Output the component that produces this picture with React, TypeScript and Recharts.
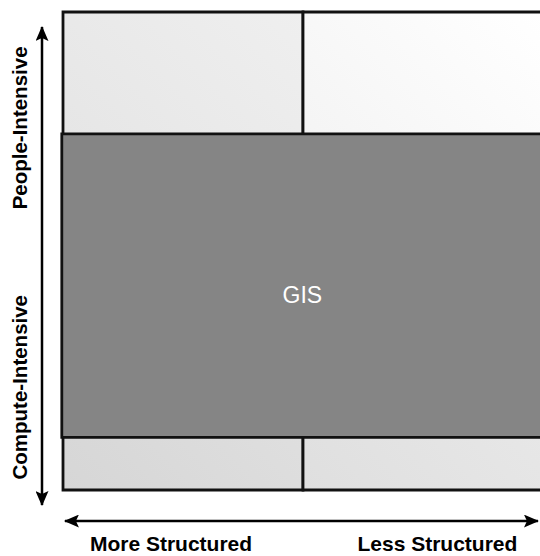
import { ComposedChart, XAxis, YAxis, ReferenceArea, ReferenceLine } from 'recharts';

// quadrant grid: columns along x, rows along y
const columnLabels = ['More Structured', 'Less Structured'];
const rowLabels = ['Compute-Intensive', 'People-Intensive'];
const columnLabelTicks = [0.45, 1.56];
const rowLabelTicks = [0.43, 1.515];

const quadrants = [
    { id: 'tl', x1: 0, x2: 1, y1: 1, y2: 2 },
    { id: 'tr', x1: 1, x2: 2, y1: 1, y2: 2 },
    { id: 'bl', x1: 0, x2: 1, y1: 0, y2: 1 },
    { id: 'br', x1: 1, x2: 2, y1: 0, y2: 1 },
];

const gisBand = { name: 'GIS', x1: -0.005, x2: 2, y1: 0.22, y2: 1.49 };

const cellGradients: Record<string, [string, string]> = {
    tl: ['#e3e3e3', '#efefef'],
    tr: ['#f1f1f1', '#ffffff'],
    bl: ['#d6d6d6', '#e4e4e4'],
    br: ['#dfdfdf', '#ececec'],
};

const FONT = '"Liberation Sans", Arial, sans-serif';

const XTick = (props: any) => (
    <text
        x={props.x}
        y={props.y + 61}
        textAnchor="middle"
        fontFamily={FONT}
        fontWeight="bold"
        fontSize={21}
        fill="#000"
    >
        {columnLabels[props.index]}
    </text>
);

const YTick = (props: any) => {
    const x = props.x - 36;
    return (
        <text
            x={x}
            y={props.y}
            transform={`rotate(-90, ${x}, ${props.y})`}
            textAnchor="middle"
            fontFamily={FONT}
            fontWeight="bold"
            fontSize={20.5}
            fill="#000"
        >
            {rowLabels[props.index]}
        </text>
    );
};

export default function App() {
    return (
        <div
            style={{
                position: 'absolute',
                left: 0,
                top: 0,
                width: 540,
                height: 556,
                overflow: 'hidden',
                background: '#fff',
            }}
        >
            <ComposedChart width={560} height={556} margin={{ top: 12, right: 17, bottom: 0, left: 0 }} data={[]}>
                <defs>
                    {Object.entries(cellGradients).map(([id, [from, to]]) => (
                        <linearGradient key={id} id={`cell-${id}`} x1="0" y1="1" x2="1" y2="0">
                            <stop offset="0%" stopColor={from} />
                            <stop offset="100%" stopColor={to} />
                        </linearGradient>
                    ))}
                    <marker
                        id="arrowHead"
                        viewBox="0 0 15 13"
                        refX="14"
                        refY="6.5"
                        markerWidth="15"
                        markerHeight="13"
                        markerUnits="userSpaceOnUse"
                        orient="auto-start-reverse"
                    >
                        <path d="M0,0 L15,6.5 L0,13 L3,6.5 z" fill="#000" />
                    </marker>
                </defs>
                <XAxis
                    type="number"
                    dataKey="x"
                    domain={[0, 2]}
                    ticks={columnLabelTicks}
                    tick={XTick}
                    interval={0}
                    axisLine={false}
                    tickLine={false}
                    tickSize={0}
                    tickMargin={0}
                    height={66}
                    allowDataOverflow
                />
                <YAxis
                    type="number"
                    dataKey="y"
                    domain={[0, 2]}
                    ticks={rowLabelTicks}
                    tick={YTick}
                    interval={0}
                    axisLine={false}
                    tickLine={false}
                    tickSize={0}
                    tickMargin={0}
                    width={63}
                    allowDataOverflow
                />
                {quadrants.map((q) => (
                    <ReferenceArea
                        key={q.id}
                        x1={q.x1}
                        x2={q.x2}
                        y1={q.y1}
                        y2={q.y2}
                        fill={`url(#cell-${q.id})`}
                        fillOpacity={1}
                        stroke="#111"
                        strokeWidth={2.8}
                        ifOverflow="visible"
                    />
                ))}
                <ReferenceArea
                    x1={gisBand.x1}
                    x2={gisBand.x2}
                    y1={gisBand.y1}
                    y2={gisBand.y2}
                    fill="#858585"
                    fillOpacity={1}
                    stroke="#111"
                    strokeWidth={2.8}
                    ifOverflow="visible"
                    label={{
                        value: gisBand.name,
                        position: 'center',
                        fill: '#fff',
                        fontSize: 23,
                        fontFamily: FONT,
                        dy: 9,
                    }}
                />
                <ReferenceLine
                    segment={[
                        { x: -0.0875, y: -0.063 },
                        { x: -0.0875, y: 1.937 },
                    ]}
                    stroke="#000"
                    strokeWidth={2.5}
                    markerStart="url(#arrowHead)"
                    markerEnd="url(#arrowHead)"
                    ifOverflow="visible"
                />
                <ReferenceLine
                    segment={[
                        { x: 0.008, y: -0.13 },
                        { x: 1.979, y: -0.13 },
                    ]}
                    stroke="#000"
                    strokeWidth={2.5}
                    markerStart="url(#arrowHead)"
                    markerEnd="url(#arrowHead)"
                    ifOverflow="visible"
                />
            </ComposedChart>
        </div>
    );
}
